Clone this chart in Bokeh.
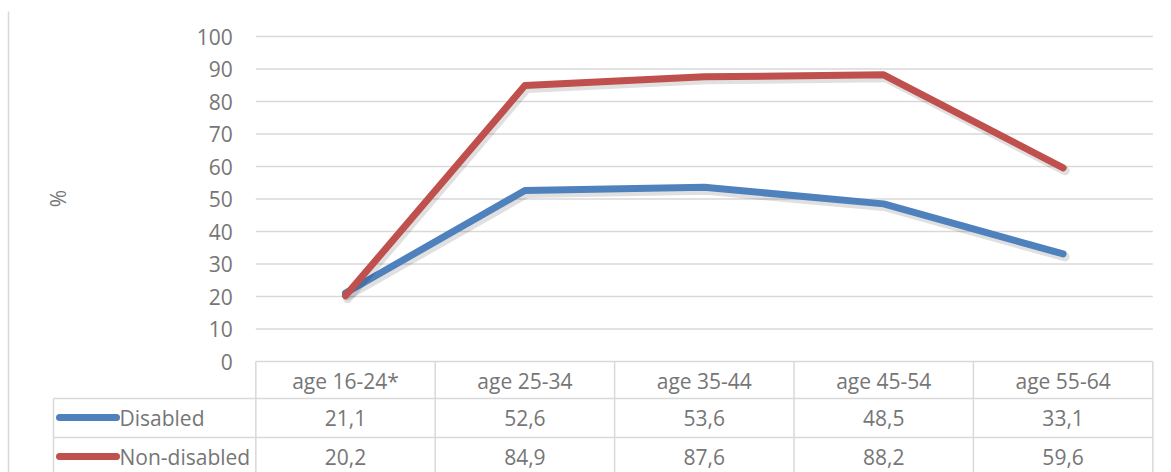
from bokeh.plotting import figure
from bokeh.models import Range1d
from bokeh.core.properties import value
from bokeh.embed import file_html
from bokeh.resources import INLINE

# ---- data ----
categories = ["age 16-24*", "age 25-34", "age 35-44", "age 45-54", "age 55-64"]
disabled = [21.1, 52.6, 53.6, 48.5, 33.1]
non_disabled = [20.2, 84.9, 87.6, 88.2, 59.6]
series_names = ["Disabled", "Non-disabled"]
y_ticks = [0, 10, 20, 30, 40, 50, 60, 70, 80, 90, 100]

# ---- layout constants (pixels) ----
W, H = 1171, 472
X0, DX = 345.0, 179.4      # pixel x of first category, pixels per category
Y0, DY = 361.0, 3.25       # pixel y (from top) of value 0, pixels per unit
FONT = value("Open Sans")
FS = "21px"
TXT = "#767676"
GRID = "#d9d9d9"
BLUE = "#4f81bd"
RED = "#c0504d"

def xv(px):
    return (px - X0) / DX

def yv(py):
    return (Y0 - py) / DY

p = figure(width=W, height=H, output_backend="svg", toolbar_location=None,
           x_range=Range1d(xv(0), xv(W)), y_range=Range1d(yv(H), yv(0)),
           min_border=0, x_axis_location=None, y_axis_location=None)
p.grid.visible = False
p.outline_line_color = None
p.background_fill_color = "white"
p.border_fill_color = "white"

n = len(categories)
idx = list(range(n))
left_edge, right_edge = -0.5, n - 0.5

# left chart-area border
p.segment(x0=[xv(8)], y0=[yv(11)], x1=[xv(8)], y1=[yv(H)], line_color=GRID, line_width=1.5)

# gridlines
grid_vals = [t for t in y_ticks if t > 0]
p.segment(x0=[left_edge] * len(grid_vals), y0=grid_vals,
          x1=[right_edge] * len(grid_vals), y1=grid_vals,
          line_color=GRID, line_width=1.5)

# y tick labels
p.text(x=[left_edge] * len(y_ticks), y=y_ticks, text=[str(t) for t in y_ticks],
       x_offset=-23, text_align="right", text_baseline="middle",
       text_font=FONT, text_font_size=FS, text_color=TXT)

# y axis label
p.text(x=[xv(57)], y=[yv(198)], text=["%"], angle=1.5708,
       text_align="center", text_baseline="middle",
       text_font=FONT, text_font_size=FS, text_color=TXT)

# ---- data table ----
row_tops = [361, 398, 437, 476]
p.segment(x0=[left_edge], y0=[0], x1=[right_edge], y1=[0], line_color=GRID, line_width=1.5)
p.segment(x0=[xv(53)] * 3, y0=[yv(r) for r in row_tops[1:]],
          x1=[right_edge] * 3, y1=[yv(r) for r in row_tops[1:]],
          line_color=GRID, line_width=1.5)
edges = [i - 0.5 for i in range(n + 1)]
p.segment(x0=edges, y0=[0] * len(edges), x1=edges, y1=[yv(H)] * len(edges),
          line_color=GRID, line_width=1.5)
p.segment(x0=[xv(53)], y0=[yv(398)], x1=[xv(53)], y1=[yv(H)], line_color=GRID, line_width=1.5)

# header labels
p.text(x=idx, y=[yv(380)] * n, text=categories, text_align="center", text_baseline="middle",
       text_font=FONT, text_font_size=FS, text_color=TXT)

# value rows
row_y = [yv(417), yv(456)]
for vals, ry, name, col in zip([disabled, non_disabled], row_y, series_names, [BLUE, RED]):
    p.text(x=idx, y=[ry] * n, text=[f"{v:.1f}".replace(".", ",") for v in vals],
           text_align="center", text_baseline="middle",
           text_font=FONT, text_font_size=FS, text_color=TXT)
    p.segment(x0=[xv(59)], y0=[ry], x1=[xv(116)], y1=[ry], line_color=col,
              line_width=7, line_cap="round")
    p.text(x=[xv(119)], y=[ry], text=[name], text_align="left", text_baseline="middle",
           text_font=FONT, text_font_size=FS, text_color=TXT)

# ---- lines with soft shadow ----
sdx, sdy = 2.0 / DX, -3.0 / DY
for vals, col in [(disabled, BLUE), (non_disabled, RED)]:
    p.line([i + sdx for i in idx], [v + sdy for v in vals], line_color="black", line_alpha=0.12,
           line_width=9, line_join="round", line_cap="round")
    p.line(idx, vals, line_color=col, line_width=7, line_join="round", line_cap="round")

open("out.html", "w").write(file_html(p, INLINE))
